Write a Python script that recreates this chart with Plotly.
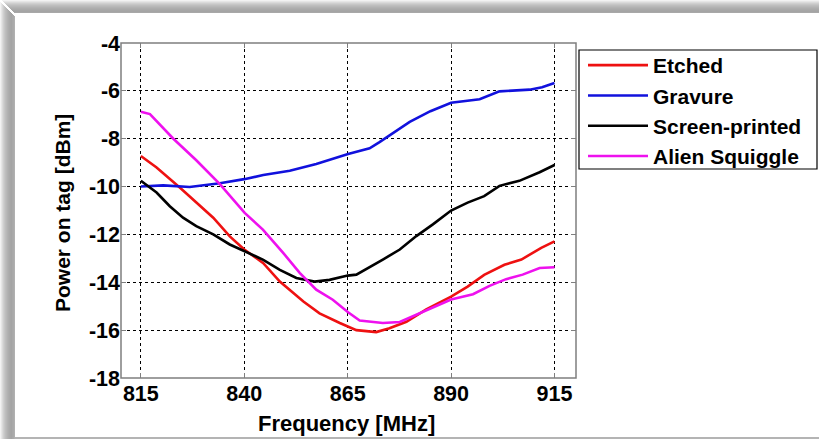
import plotly.graph_objects as go

# ---------------- data ----------------
freq_etched = [815, 818.8, 824.4, 828.4, 832.5, 836.5, 840, 844.6, 848.6, 854.3, 858.2, 863.1,
               867.1, 871.9, 875.1, 879.2, 884, 890, 894, 898, 902.9, 907, 911.8, 915]
etched = [-8.72, -9.2, -10.04, -10.67, -11.3, -12.08, -12.63, -13.2, -13.97, -14.8, -15.3, -15.7,
          -16.0, -16.08, -15.92, -15.65, -15.13, -14.6, -14.18, -13.69, -13.27, -13.05, -12.56, -12.29]

freq_gravure = [815, 820.4, 826.8, 834.1, 840, 844.6, 851, 857.4, 865.1, 870.3, 872.7, 880, 885,
                890, 896.9, 901.7, 909, 912, 915]
gravure = [-10.0, -9.95, -10.02, -9.86, -9.69, -9.52, -9.34, -9.06, -8.64, -8.4, -8.14, -7.3, -6.85,
           -6.5, -6.35, -6.02, -5.95, -5.85, -5.67]

freq_screen = [815, 818.8, 822, 825.2, 828.4, 832.5, 836.5, 840, 844.6, 848.6, 852.6, 857, 860.6,
               865, 867.1, 873.5, 877.6, 881.6, 885.6, 890, 894, 898, 901.7, 906.5, 911.4, 915]
screen = [-9.76, -10.25, -10.82, -11.3, -11.65, -12.0, -12.42, -12.7, -13.06, -13.48, -13.82, -13.97,
          -13.9, -13.72, -13.68, -13.05, -12.63, -12.07, -11.58, -11.0, -10.67, -10.4, -9.97, -9.76,
          -9.4, -9.1]

freq_alien = [815, 817.2, 822.8, 825.6, 828.4, 834.1, 840.1, 844.5, 849.4, 853.4, 857.4, 861.4,
              865.1, 867.9, 873.5, 877.6, 883.2, 890, 895.3, 899.3, 903.3, 907.3, 911.4, 915]
alien = [-6.87, -6.97, -7.99, -8.43, -8.9, -9.9, -11.1, -11.8, -12.77, -13.61, -14.31, -14.73,
         -15.25, -15.6, -15.7, -15.66, -15.24, -14.72, -14.5, -14.15, -13.87, -13.68, -13.4, -13.37]

x_ticks = [815, 840, 865, 890, 915]
x_ticklabels = ["815", "840", "865", "890", "915"]
y_ticks = [-18, -16, -14, -12, -10, -8, -6, -4]
y_ticklabels = ["-18", "-16", "-14", "-12", "-10", "-8", "-6", "-4"]

series_names = ["Etched", "Gravure", "Screen-printed", "Alien Squiggle"]
series_colors = ["#ee1111", "#1111dd", "#000000", "#ee11ee"]

# ---------------- figure ----------------
W, H = 819, 439
L, R, T, B = 121, 576, 43, 378  # plot area in pixels
FONT = "Arial, Liberation Sans, sans-serif"


def px_x(px):
    return (px - L) / (R - L)


def px_y(py):
    return (B - py) / (B - T)


fig = go.Figure()
for fx, fy, name, col in zip([freq_etched, freq_gravure, freq_screen, freq_alien],
                             [etched, gravure, screen, alien], series_names, series_colors):
    fig.add_trace(go.Scatter(x=fx, y=fy, mode="lines", name=name,
                             line=dict(color=col, width=2.6)))

# outer frame shadow (decoration)
shapes = []
band_cols = ["#f2f2f2", "#e6e6e6", "#dadada", "#cfcfcf", "#c6c6c6", "#bebebe", "#b8b8b8",
             "#b2b2b2", "#adadad", "#a9a9a9", "#a6a6a6", "#a4a4a4", "#a8a8a8"]
for i, c in enumerate(band_cols):
    shapes.append(dict(type="rect", xref="paper", yref="paper", layer="below",
                       x0=px_x(i + 2), x1=px_x(W), y0=px_y(i), y1=px_y(i + 1),
                       fillcolor=c, line=dict(width=0)))
for i, c in enumerate(band_cols + ["#aaaaaa", "#b0b0b0"]):
    shapes.append(dict(type="rect", xref="paper", yref="paper", layer="below",
                       x0=px_x(i), x1=px_x(i + 1), y0=px_y(i + 2), y1=px_y(H),
                       fillcolor=c, line=dict(width=0)))
shapes.append(dict(type="rect", xref="paper", yref="paper", layer="below",
                   x0=px_x(15), x1=px_x(W), y0=px_y(437), y1=px_y(H),
                   fillcolor="#b4b4b4", line=dict(width=0)))
# plot frame
shapes.append(dict(type="rect", xref="paper", yref="paper", layer="above",
                   x0=0, x1=1, y0=0, y1=1, line=dict(color="#7f7f7f", width=1.5)))
# legend box
shapes.append(dict(type="rect", xref="paper", yref="paper", layer="above",
                   x0=px_x(579), x1=px_x(817), y0=px_y(169), y1=px_y(50),
                   fillcolor="#ffffff", line=dict(color="#000000", width=1.2)))

axis_common = dict(
    showgrid=True, gridcolor="#000000", gridwidth=1, griddash="dot",
    zeroline=False, showline=False, ticks="inside", ticklen=5, tickcolor="#7f7f7f",
    tickfont=dict(family=FONT, size=21.5, color="#000000", weight="bold"),
    mirror="ticks",
)

fig.update_layout(
    width=W, height=H,
    margin=dict(l=L, r=W - R, t=T, b=H - B),
    paper_bgcolor="#ffffff", plot_bgcolor="#ffffff",
    showlegend=True,
    legend=dict(x=px_x(583), y=px_y(45), xanchor="left", yanchor="top",
                bgcolor="rgba(0,0,0,0)", borderwidth=0,
                font=dict(family=FONT, size=21, color="#000000", weight="bold"),
                itemwidth=60, tracegroupgap=0),
    xaxis=dict(range=[810.2, 920.2], tickvals=x_ticks, ticktext=x_ticklabels, **axis_common),
    yaxis=dict(range=[-18, -4], tickvals=y_ticks, ticktext=y_ticklabels, **axis_common),
    shapes=shapes,
    annotations=[
        dict(text="Frequency [MHz]", xref="paper", yref="paper", x=px_x(346), y=px_y(423),
             xanchor="center", yanchor="middle", showarrow=False,
             font=dict(family=FONT, size=22, color="#000000", weight="bold")),
        dict(text="Power on tag [dBm]", xref="paper", yref="paper", x=px_x(62), y=px_y(213),
             xanchor="center", yanchor="middle", showarrow=False, textangle=-90,
             font=dict(family=FONT, size=21, color="#000000", weight="bold")),
    ],
)

fig.write_html("out.html")
